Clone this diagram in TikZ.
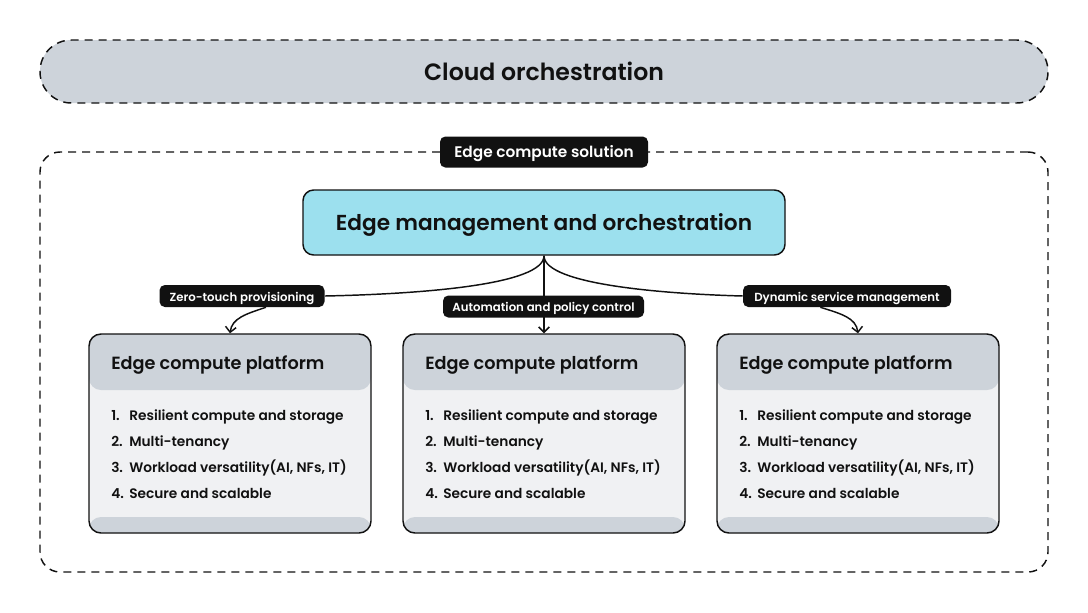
\documentclass[tikz,border=0pt]{standalone}
\usepackage{fontspec}
\setmainfont{Poppins}
\newfontfamily\psemi{Poppins SemiBold}
\usetikzlibrary{arrows.meta,backgrounds}
\definecolor{hdrgray}{HTML}{CDD3DA}
\definecolor{bodygray}{HTML}{F0F1F3}
\definecolor{mgmtcyan}{HTML}{9CE0EE}
\definecolor{ink}{HTML}{111111}
\tikzset{
  capc/.style={text height=0.95em, text depth=0pt},
  tagc/.style={text height=0.8em, text depth=0pt},
  dashbox/.style={draw=ink, line width=1.1pt, dash pattern=on 6pt off 4.5pt},
  tag/.style={fill=ink, text=white, rounded corners=4pt, inner sep=0pt, tagc, font=\psemi\fontsize{8.8}{10}\selectfont},
  conn/.style={draw=ink, line width=1.1pt},
  tip/.style={-{Straight Barb[length=4pt,width=8pt,line width=1.1pt]}},
  platbox/.style={draw=ink, line width=1.1pt, fill=bodygray, rounded corners=9pt,
    minimum width=211.5pt, minimum height=149.25pt, inner sep=0pt,
    path picture={
      \fill[hdrgray] (path picture bounding box.north west) rectangle ([yshift=-42pt]path picture bounding box.north east);
      \fill[hdrgray] ([yshift=12pt]path picture bounding box.south west) rectangle (path picture bounding box.south east);
    }},
  plattitle/.style={anchor=west, inner sep=0pt, capc, text=ink, font=\psemi\fontsize{13.25}{15}\selectfont},
  item/.style={anchor=west, inner sep=0pt, capc, text=ink, font=\psemi\fontsize{10.3}{12}\selectfont}
}
\newcommand{\itemnum}[1]{\makebox[13.5pt][l]{#1}}
\begin{document}
\begin{tikzpicture}[x=0.75pt,y=-0.75pt]
\useasboundingbox (0,0) rectangle (1088,612);
% cloud orchestration
\node[dashbox, fill=hdrgray, rounded corners=23.5pt, minimum width=756pt, minimum height=47.25pt, inner sep=0pt] (cloud) at (544,71.5) {};
\node[text=ink, inner sep=0pt, capc, font=\psemi\fontsize{17.7}{20}\selectfont] (cloudText) at (544,74) {Cloud orchestration};
% edge compute solution container
\node[dashbox, rounded corners=15pt, minimum width=756pt, minimum height=315pt, inner sep=0pt] (sol) at (544,362) {};
\node[tag, minimum width=156pt, minimum height=23.25pt, font=\psemi\fontsize{11.5}{13}\selectfont] (solLabel) at (544,152) {Edge compute solution};
% management
\node[draw=ink, line width=1.1pt, fill=mgmtcyan, rounded corners=8pt, minimum width=361.5pt, minimum height=48.75pt, inner sep=0pt] (mgmt) at (544,222.5) {};
\node[text=ink, inner sep=0pt, capc, font=\psemi\fontsize{16.25}{19}\selectfont] (mgmtText) at (544,224) {Edge management and orchestration};
% platforms
\foreach \i/\x in {1/230,2/544,3/858}{
  \node[platbox] (p\i) at (\x,433.5) {};
  \node[plattitle] (p\i title) at (\x-119,363) {Edge compute platform};
  \node[item] (p\i a) at (\x-119,414.5) {\itemnum{1.}Resilient compute and storage};
  \node[item] (p\i b) at (\x-119,440.5) {\itemnum{2.}Multi-tenancy};
  \node[item] (p\i c) at (\x-119,466.5) {\itemnum{3.}Workload versatility(AI, NFs, IT)};
  \node[item] (p\i d) at (\x-119,492.5) {\itemnum{4.}Secure and scalable};
}
% tags
\node[tag, minimum width=123.75pt, minimum height=16.5pt] (zt) at (242,296) {Zero-touch provisioning};
\node[tag, minimum width=150.75pt, minimum height=16.5pt] (ap) at (543.5,306.5) {Automation and policy control};
\node[tag, minimum width=156pt, minimum height=16.5pt] (dyn) at (847,296) {Dynamic service management};
% connectors
\begin{scope}[on background layer]
\draw[conn] (mgmt.south) .. controls (544,285) and (420,294) .. (zt.east);
\draw[conn, tip] ([xshift=18pt]zt.south) .. controls (246,314) and (232,318) .. (p1.north);
\draw[conn, tip] (mgmt.south) -- (p2.north);
\draw[conn] (mgmt.south) .. controls (544,285) and (668,294) .. (dyn.west);
\draw[conn, tip] ([xshift=-20pt]dyn.south) .. controls (842,314) and (856,318) .. (p3.north);
\end{scope}
\end{tikzpicture}
\end{document}
